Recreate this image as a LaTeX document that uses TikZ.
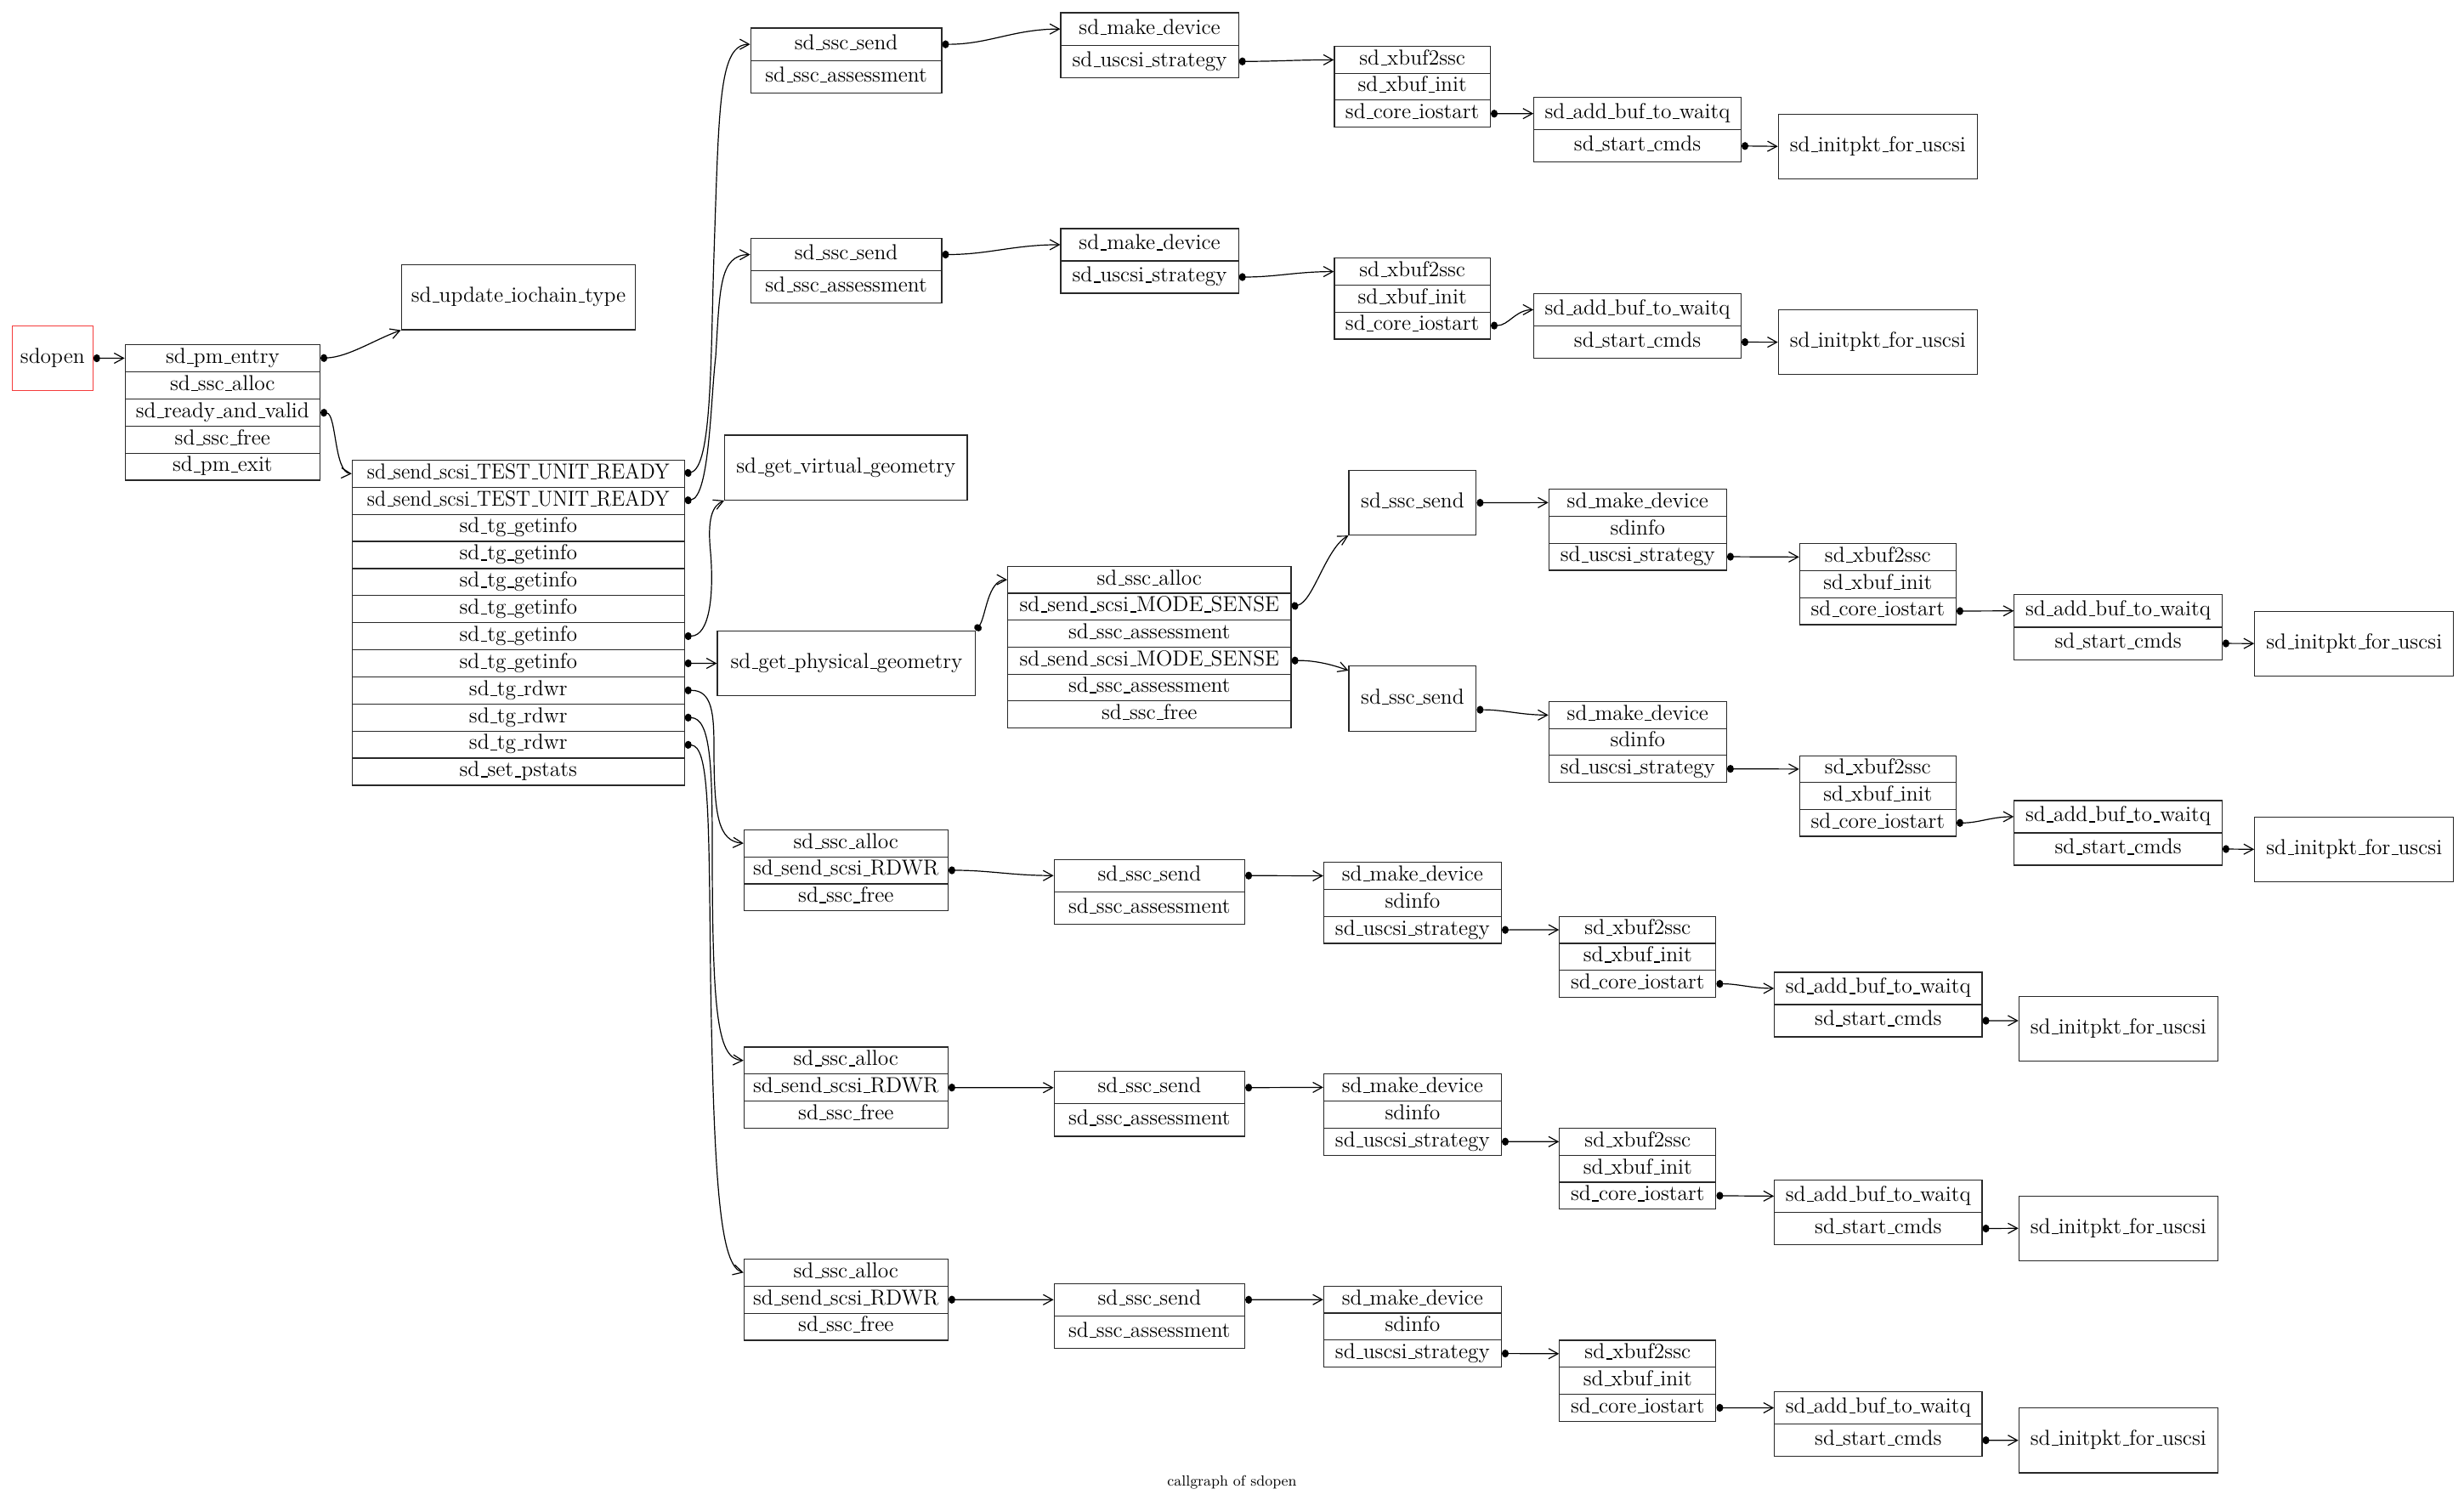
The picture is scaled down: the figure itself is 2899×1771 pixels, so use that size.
\documentclass[tikz,border=0pt]{standalone}
\usetikzlibrary{arrows.meta}
\definecolor{rootred}{RGB}{245,60,60}
\definecolor{framegray}{RGB}{40,40,40}
% narrow underscore, as in the classic Computer Modern \_
\newcommand\us{\kern0.06em\rule[-0.4pt]{0.3em}{0.6pt}}
% record: name, left x, right x, top y, row height, list of fields
\newcommand\callrec[6]{%
  \foreach \lab [count=\k] in {#6}{%
    \node[rowbox, minimum width={(#3-#2)*0.5pt}, minimum height={#5*0.5pt}]
      (#1-\k) at (#2,{#4+(\k-1)*#5}) {\lab};
  }%
}
% plain box: [style] name, left x, top y, right x, bottom y, label
\newcommand\callbox[7][]{%
  \node[rowbox, #1, minimum width={(#5-#3)*0.5pt}, minimum height={(#6-#4)*0.5pt}]
    (#2) at (#3,#4) {#7};
}
\newcommand\tur{\scalebox{0.94}[1]{sd\us send\us scsi\us TEST\us UNIT\us READY}}
\begin{document}
\begin{tikzpicture}[x=0.5pt,y=-0.5pt,
  rowbox/.style={draw=framegray, line width=0.6pt, anchor=north west, inner sep=0pt,
    font=\fontsize{12.75}{14}\selectfont, text height=8.9pt, text depth=3pt},
  call/.style={line width=0.6pt,
    {Ellipse[length=4pt,width=4.6pt]}-{Straight Barb[length=5.5pt,width=6pt]}}]

\path[use as bounding box, fill=white] (0,0) rectangle (2899,1771);

% ---------- nodes ----------
\callbox[draw=rootred]{sdopen}{13.9}{382.7}{108.6}{459.2}{sdopen}
\callrec{pm}{146.6}{375.9}{404.9}{31.9}{sd\us pm\us entry,sd\us ssc\us alloc,sd\us ready\us and\us valid,sd\us ssc\us free,sd\us pm\us exit}
\callbox{upd}{471.6}{310.8}{747.2}{387.3}{sd\us update\us iochain\us type}
\callrec{tur}{413.8}{804.5}{540.8}{31.875}{\tur,\tur,sd\us tg\us getinfo,sd\us tg\us getinfo,sd\us tg\us getinfo,sd\us tg\us getinfo,sd\us tg\us getinfo,sd\us tg\us getinfo,sd\us tg\us rdwr,sd\us tg\us rdwr,sd\us tg\us rdwr,sd\us set\us pstats}

% TEST UNIT READY chains
\callrec{sendone}{882.6}{1107.3}{32.5}{38.1}{sd\us ssc\us send,sd\us ssc\us assessment}
\callrec{sendtwo}{882.6}{1107.3}{279.8}{38.2}{sd\us ssc\us send,sd\us ssc\us assessment}
\callrec{mkone}{1247.4}{1456.5}{14.5}{38.1}{sd\us make\us device,sd\us uscsi\us strategy}
\callrec{mktwo}{1247.4}{1456.5}{268.3}{38.05}{sd\us make\us device,sd\us uscsi\us strategy}
\callrec{xbone}{1569.3}{1752.8}{54}{31.65}{sd\us xbuf2ssc,sd\us xbuf\us init,sd\us core\us iostart}
\callrec{xbtwo}{1569.3}{1752.8}{303.1}{31.75}{sd\us xbuf2ssc,sd\us xbuf\us init,sd\us core\us iostart}
\callrec{abone}{1804.1}{2047.8}{114}{38.1}{sd\us add\us buf\us to\us waitq,sd\us start\us cmds}
\callrec{abtwo}{1804.1}{2047.8}{344.8}{38.1}{sd\us add\us buf\us to\us waitq,sd\us start\us cmds}
\callbox{initone}{2091.7}{133.6}{2325.7}{209.7}{sd\us initpkt\us for\us uscsi}
\callbox{inittwo}{2091.7}{364}{2325.7}{440.1}{sd\us initpkt\us for\us uscsi}

% geometry
\callbox{virt}{852.1}{511.3}{1137.4}{587.7}{sd\us get\us virtual\us geometry}
\callbox{phys}{843.4}{741.9}{1147.1}{818}{sd\us get\us physical\us geometry}
\callrec{mode}{1185}{1518.4}{665.7}{31.7}{sd\us ssc\us alloc,sd\us send\us scsi\us MODE\us SENSE,sd\us ssc\us assessment,sd\us send\us scsi\us MODE\us SENSE,sd\us ssc\us assessment,sd\us ssc\us free}
\callbox{senda}{1586.4}{553}{1736.2}{629}{sd\us ssc\us send}
\callbox{sendb}{1586.4}{783.2}{1736.2}{859.8}{sd\us ssc\us send}
\callrec{mka}{1821.7}{2030.7}{574.8}{31.85}{sd\us make\us device,sdinfo,sd\us uscsi\us strategy}
\callrec{mkb}{1821.7}{2030.7}{824.9}{31.65}{sd\us make\us device,sdinfo,sd\us uscsi\us strategy}
\callrec{xba}{2116.7}{2300.7}{638.9}{31.8}{sd\us xbuf2ssc,sd\us xbuf\us init,sd\us core\us iostart}
\callrec{xbb}{2116.7}{2300.7}{888.5}{31.65}{sd\us xbuf2ssc,sd\us xbuf\us init,sd\us core\us iostart}
\callrec{aba}{2369.2}{2613.7}{699}{38.3}{sd\us add\us buf\us to\us waitq,sd\us start\us cmds}
\callrec{abb}{2369.2}{2613.7}{941.3}{38.05}{sd\us add\us buf\us to\us waitq,sd\us start\us cmds}
\callbox{inita}{2652.1}{718.5}{2886.1}{794.7}{sd\us initpkt\us for\us uscsi}
\callbox{initb}{2652.1}{960.8}{2886.1}{1036.6}{sd\us initpkt\us for\us uscsi}

% read/write chains
\callrec{rwone}{874.8}{1114.7}{975.7}{31.8}{sd\us ssc\us alloc,sd\us send\us scsi\us RDWR,sd\us ssc\us free}
\callrec{rwtwo}{874.8}{1114.7}{1231.3}{31.85}{sd\us ssc\us alloc,sd\us send\us scsi\us RDWR,sd\us ssc\us free}
\callrec{rwthree}{874.8}{1114.7}{1480.8}{31.85}{sd\us ssc\us alloc,sd\us send\us scsi\us RDWR,sd\us ssc\us free}
\callrec{sro}{1239.6}{1463.9}{1010.5}{38.25}{sd\us ssc\us send,sd\us ssc\us assessment}
\callrec{srt}{1239.6}{1463.9}{1260.1}{38.1}{sd\us ssc\us send,sd\us ssc\us assessment}
\callrec{srh}{1239.6}{1463.9}{1509.6}{38.15}{sd\us ssc\us send,sd\us ssc\us assessment}
\callrec{mro}{1556.8}{1765.8}{1014}{31.8}{sd\us make\us device,sdinfo,sd\us uscsi\us strategy}
\callrec{mrt}{1556.8}{1765.8}{1262.8}{31.95}{sd\us make\us device,sdinfo,sd\us uscsi\us strategy}
\callrec{mrh}{1556.8}{1765.8}{1512.7}{31.7}{sd\us make\us device,sdinfo,sd\us uscsi\us strategy}
\callrec{xro}{1834.2}{2018.2}{1077.5}{31.8}{sd\us xbuf2ssc,sd\us xbuf\us init,sd\us core\us iostart}
\callrec{xrt}{1834.2}{2018.2}{1326.8}{31.8}{sd\us xbuf2ssc,sd\us xbuf\us init,sd\us core\us iostart}
\callrec{xrh}{1834.2}{2018.2}{1576.3}{31.8}{sd\us xbuf2ssc,sd\us xbuf\us init,sd\us core\us iostart}
\callrec{aro}{2087.1}{2331.3}{1143.3}{38.05}{sd\us add\us buf\us to\us waitq,sd\us start\us cmds}
\callrec{art}{2087.1}{2331.3}{1387.7}{38.15}{sd\us add\us buf\us to\us waitq,sd\us start\us cmds}
\callrec{arh}{2087.1}{2331.3}{1636.8}{38.15}{sd\us add\us buf\us to\us waitq,sd\us start\us cmds}
\callbox{initro}{2374.7}{1171.9}{2608.7}{1248.2}{sd\us initpkt\us for\us uscsi}
\callbox{initrt}{2374.7}{1406.5}{2608.7}{1482.8}{sd\us initpkt\us for\us uscsi}
\callbox{initrh}{2374.7}{1656}{2608.7}{1732.3}{sd\us initpkt\us for\us uscsi}

\node[font=\fontsize{8.7}{10}\selectfont] (caption) at (1449.5,1743.8) {callgraph of sdopen};

% ---------- calls ----------
\draw[call] (sdopen.east) -- (pm-1.west);
\draw[call] (pm-1.east) .. controls (410,420) and (440,400) .. (upd.south west);
\draw[call] (pm-3.east) .. controls (396,487) and (393,556) .. (tur-1.west);

\draw[call] (tur-1.east) .. controls (838,550) and (836,420) .. (840,300)
  .. controls (846,120) and (846,52) .. (sendone-1.west);
\draw[call] (tur-2.east) .. controls (835,585) and (836,470) .. (842,420)
  .. controls (847,340) and (846,300) .. (sendtwo-1.west);
\draw[call] (tur-7.east) .. controls (835,748) and (840,700) .. (836,650)
  .. controls (832,610) and (838,595) .. (virt.south west);
\draw[call] (tur-8.east) -- (phys.west);
\draw[call] (tur-9.east) .. controls (838,812) and (840,840) .. (840,880)
  .. controls (840,960) and (845,990) .. (rwone-1.west);
\draw[call] (tur-10.east) .. controls (836,845) and (838,900) .. (838,1000)
  .. controls (838,1200) and (845,1246) .. (rwtwo-1.west);
\draw[call] (tur-11.east) .. controls (834,878) and (834,950) .. (836,1150)
  .. controls (840,1400) and (848,1490) .. (rwthree-1.west);

\draw[call] (sendone-1.east) to[out=0,in=180] (mkone-1.west);
\draw[call] (sendtwo-1.east) to[out=0,in=180] (mktwo-1.west);
\draw[call] (mkone-2.east) to[out=0,in=180] (xbone-1.west);
\draw[call] (mktwo-2.east) to[out=0,in=180] (xbtwo-1.west);
\draw[call] (xbone-3.east) -- (abone-1.west);
\draw[call] (xbtwo-3.east) to[out=0,in=180] (abtwo-1.west);
\draw[call] (abone-2.east) -- (initone.west);
\draw[call] (abtwo-2.east) -- (inittwo.west);

\draw[call] (phys.north east) .. controls (1160,725) and (1162,682) .. (mode-1.west);
\draw[call] (mode-2.east) .. controls (1545,708) and (1560,645) .. (senda.south west);
\draw[call] (mode-4.east) .. controls (1545,777) and (1565,781) .. ([yshift=-2.9pt]sendb.north west);
\draw[call] (senda.east) -- (mka-1.west);
\draw[call] ([yshift=-6.5pt]sendb.east) to[out=0,in=180] (mkb-1.west);
\draw[call] (mka-3.east) -- (xba-1.west);
\draw[call] (mkb-3.east) -- (xbb-1.west);
\draw[call] (xba-3.east) -- (aba-1.west);
\draw[call] (xbb-3.east) to[out=0,in=180] (abb-1.west);
\draw[call] (aba-2.east) -- (inita.west);
\draw[call] (abb-2.east) -- (initb.west);

\draw[call] (rwone-2.east) to[out=0,in=180] (sro-1.west);
\draw[call] (rwtwo-2.east) -- (srt-1.west);
\draw[call] (rwthree-2.east) -- (srh-1.west);
\draw[call] (sro-1.east) -- (mro-1.west);
\draw[call] (srt-1.east) -- (mrt-1.west);
\draw[call] (srh-1.east) -- (mrh-1.west);
\draw[call] (mro-3.east) -- (xro-1.west);
\draw[call] (mrt-3.east) -- (xrt-1.west);
\draw[call] (mrh-3.east) -- (xrh-1.west);
\draw[call] (xro-3.east) to[out=0,in=180] (aro-1.west);
\draw[call] (xrt-3.east) -- (art-1.west);
\draw[call] (xrh-3.east) -- (arh-1.west);
\draw[call] (aro-2.east) -- ([yshift=4.85pt]initro.west);
\draw[call] (art-2.east) -- (initrt.west);
\draw[call] (arh-2.east) -- (initrh.west);
\end{tikzpicture}
\end{document}
